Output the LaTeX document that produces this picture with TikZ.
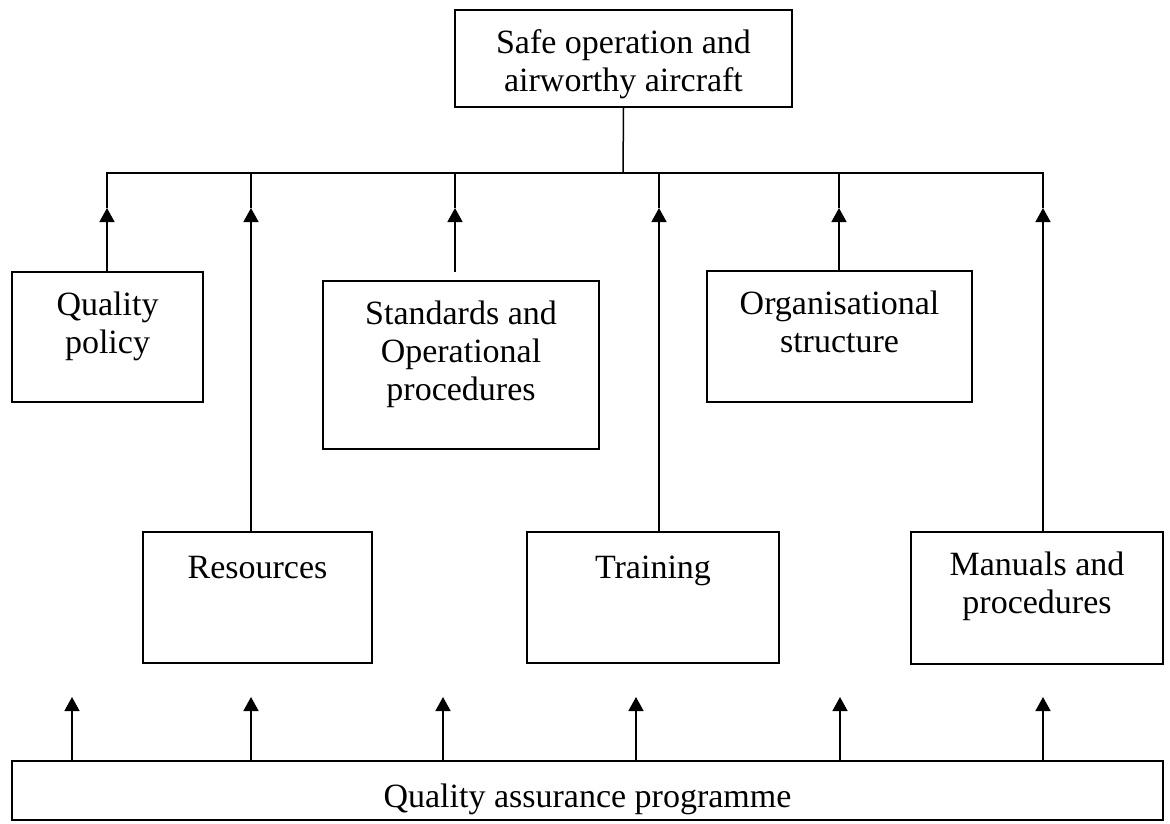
\documentclass[tikz,border=0pt]{standalone}
\usepackage{fontspec}
\setmainfont{Liberation Serif}
\usetikzlibrary{arrows.meta}
\tikzset{
 box/.style
  = {rectangle, draw, line width=1.5pt, inner sep=0pt},
 txt/.style
  = {anchor=north, yshift=-20pt, inner sep=0pt, align=center,
     font=\fontsize{34}{38}\selectfont, execute at begin node=\strut},
 ln/.style
  = {draw, line width=1.5pt},
 arr/.style
  = {draw, line width=1.5pt, -{Triangle[width=15pt,length=14pt]}},
}

\begin{document}
\begin{tikzpicture}[x=1pt,y=-1pt]
\useasboundingbox (0,0) rectangle (1170,823);

% Goal
\node[box, minimum width=337pt, minimum height=97pt,
      label={[txt]90:{Safe operation and\\airworthy aircraft}}] (goal) at (623.5,58.5) {};

% Upper row
\node[box, minimum width=191pt, minimum height=130pt,
      label={[txt]90:{Quality\\policy}}] (qp) at (107.5,337) {};
\node[box, minimum width=276pt, minimum height=168pt,
      label={[txt]90:{Standards and\\Operational\\procedures}}] (std) at (461,365) {};
\node[box, minimum width=265pt, minimum height=131pt,
      label={[txt]90:{Organisational\\structure}}] (org) at (839.5,336.5) {};

% Lower row
\node[box, minimum width=229pt, minimum height=131pt,
      label={[txt]90:{Resources}}] (res) at (257.5,597.5) {};
\node[box, minimum width=252pt, minimum height=131pt,
      label={[txt]90:{Training}}] (trn) at (653,597.5) {};
\node[box, minimum width=252pt, minimum height=132pt,
      label={[txt]90:{Manuals and\\procedures}}] (man) at (1037,598) {};

% Programme
\node[box, minimum width=1151pt, minimum height=59pt,
      label={[txt]90:{Quality assurance programme}}] (qa) at (587.5,790.5) {};

% Arrow tips and branch points
\foreach \n/\x in {1/107,2/251,3/455,4/659,5/839,6/1043}
  \coordinate (t\n) at (\x,208);
\foreach \n/\x in {1/72,2/251,3/443,4/636,5/840,6/1043}
  \coordinate (b\n) at (\x,697);
\coordinate (br) at (623,173);
\coordinate (sf) at (455,272);

% Branch lines
\draw[ln] (goal.south) -- (br);
\draw[ln] (t1) -- (t1 |- br) -- (t6 |- br) -- (t6);
\foreach \n in {2,...,5}
  \draw[ln] (t\n |- br) -- (t\n);

% Arrows into the branch
\draw[arr] (t1 |- qp.north) -- (t1);
\draw[arr] (t2 |- res.north) -- (t2);
\draw[arr] (sf) -- (t3);
\draw[arr] (t4 |- trn.north) -- (t4);
\draw[arr] (t5 |- org.north) -- (t5);
\draw[arr] (t6 |- man.north) -- (t6);

% Arrows from the programme
\foreach \n in {1,...,6}
  \draw[arr] (b\n |- qa.north) -- (b\n);

\end{tikzpicture}
\end{document}
